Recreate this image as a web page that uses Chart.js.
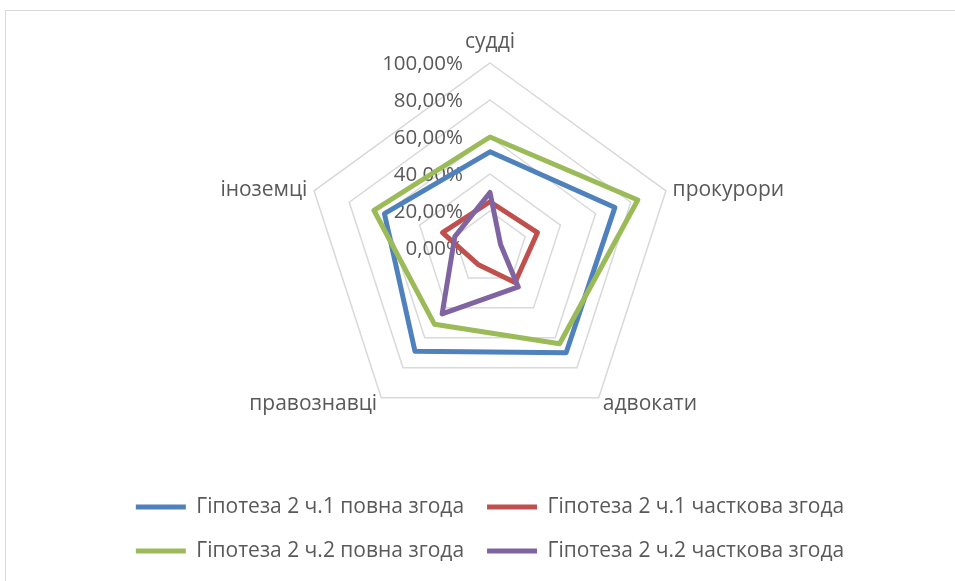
<!DOCTYPE html>
<html>
<head>
<meta charset="utf-8">
<script src="https://cdn.jsdelivr.net/npm/chart.js@4.4.1/dist/chart.umd.min.js"></script>
<style>
  html, body { margin: 0; padding: 0; background: #fff; }
  #wrap { position: relative; width: 955px; height: 581px; overflow: hidden; }
  #frame { position: absolute; left: 5px; top: 10px; width: 960px; height: 600px; border: 1px solid #d9d9d9; }
  #chart { position: absolute; left: 0; top: 0; }
</style>
</head>
<body>
<div id="wrap">
  <div id="frame"></div>
  <canvas id="chart" width="955" height="581"></canvas>
</div>
<script>
// categories and series (values in %)
const categories = ['судді', 'прокурори', 'адвокати', 'правознавці', 'іноземці'];
const seriesNames = [
    'Гіпотеза 2 ч.1 повна згода',
    'Гіпотеза 2 ч.1 часткова згода',
    'Гіпотеза 2 ч.2 повна згода',
    'Гіпотеза 2 ч.2 часткова згода'
];
const h1Full = [52, 71, 70, 69, 60];
const h1Partial = [25, 27, 23, 11, 27];
const h2Full = [60, 84, 64, 51, 66];
const h2Partial = [30, 6, 26, 44, 20];
const tickValues = [0, 20, 40, 60, 80, 100];

const colors = ['#4f81bd', '#c0504d', '#9bbb59', '#8064a2'];
const textColor = '#595959';
const fontFamily = '"Open Sans", sans-serif';

const fmt = v => v.toFixed(2).replace('.', ',') + '%';

// tick labels and category labels drawn next to the axis like in Excel
const radarText = {
    id: 'radarText',
    beforeDatasetsDraw(chart) {
        const scale = chart.scales.r;
        const ctx = chart.ctx;
        ctx.save();
        ctx.fillStyle = textColor;
        ctx.font = '20.5px ' + fontFamily;
        ctx.textAlign = 'right';
        ctx.textBaseline = 'middle';
        tickValues.forEach(v => {
            const d = scale.getDistanceFromCenterForValue(v);
            ctx.fillText(fmt(v), scale.xCenter - 27, scale.yCenter - d + 1);
        });
        ctx.restore();
    },
    afterDatasetsDraw(chart) {
        const scale = chart.scales.r;
        const ctx = chart.ctx;
        ctx.save();
        ctx.fillStyle = textColor;
        ctx.font = '21px ' + fontFamily;
        ctx.textBaseline = 'middle';
        categories.forEach((label, i) => {
            const top = i === 0;
            const p = scale.getPointPosition(i, scale.drawingArea + (top ? 21 : 7));
            if (Math.abs(p.x - scale.xCenter) < 1) ctx.textAlign = 'center';
            else ctx.textAlign = p.x > scale.xCenter ? 'left' : 'right';
            ctx.fillText(label, p.x, p.y + (top ? 0 : 1));
        });
        ctx.restore();
    }
};

const ctx = document.getElementById('chart').getContext('2d');
new Chart(ctx, {
    type: 'radar',
    data: {
        labels: categories,
        datasets: [h1Full, h1Partial, h2Full, h2Partial].map((values, i) => ({
            label: seriesNames[i],
            data: values,
            borderColor: colors[i],
            backgroundColor: colors[i],
            borderWidth: 5,
            borderJoinStyle: 'round',
            borderCapStyle: 'round',
            fill: false,
            pointRadius: 0,
            pointHoverRadius: 0,
            tension: 0,
            order: 4 - i
        }))
    },
    options: {
        responsive: false,
        animation: false,
        devicePixelRatio: 1,
        layout: { padding: { top: 63, left: 25, right: 0, bottom: 9.5 } },
        scales: {
            r: {
                min: 0,
                max: 100,
                beginAtZero: true,
                ticks: { display: false, stepSize: 20 },
                pointLabels: { display: false },
                angleLines: { display: false },
                grid: { color: '#d9d9d9', lineWidth: 1.5 }
            }
        },
        plugins: {
            tooltip: { enabled: false },
            legend: {
                position: 'bottom',
                title: { display: true, text: '', font: { size: 10 }, padding: { top: 28.5, bottom: 0 } },
                labels: {
                    usePointStyle: true,
                    pointStyle: 'line',
                    pointStyleWidth: 50,
                    padding: 23,
                    color: textColor,
                    font: { family: fontFamily, size: 21 },
                    sort: (a, b) => a.datasetIndex - b.datasetIndex
                }
            }
        }
    },
    plugins: [radarText]
});
</script>
</body>
</html>
